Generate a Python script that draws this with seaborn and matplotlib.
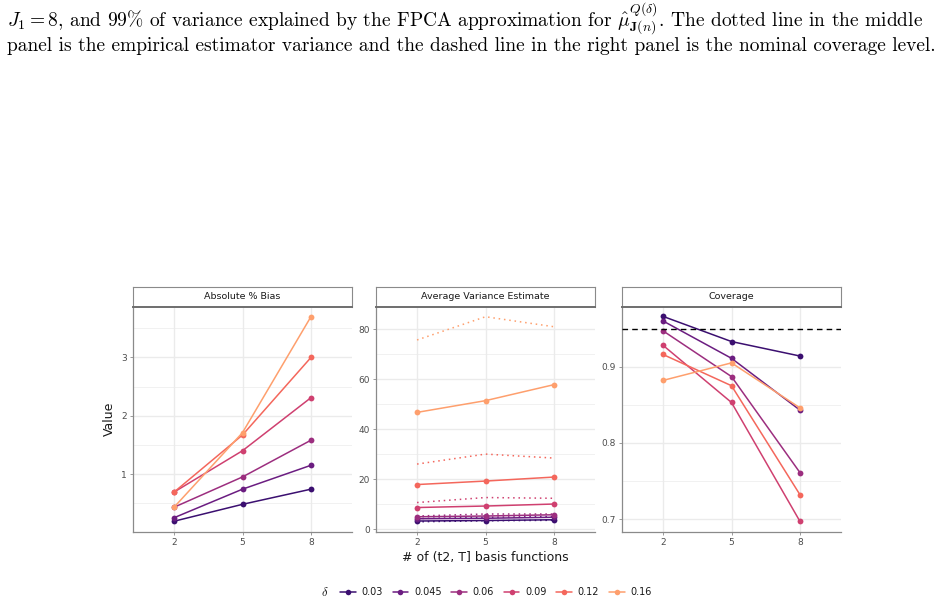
import numpy as np
import pandas as pd
import matplotlib
matplotlib.use("Agg")
import matplotlib.pyplot as plt
from matplotlib.lines import Line2D
import seaborn as sns

# ---------------- data ----------------
basis = ["2", "5", "8"]
deltas = ["0.03", "0.045", "0.06", "0.09", "0.12", "0.16"]

bias = {
    "0.03":  [0.19, 0.48, 0.74],
    "0.045": [0.25, 0.74, 1.15],
    "0.06":  [0.43, 0.95, 1.58],
    "0.09":  [0.69, 1.40, 2.31],
    "0.12":  [0.69, 1.67, 3.00],
    "0.16":  [0.43, 1.71, 3.70],
}
var_est = {
    "0.03":  [3.3, 3.5, 3.8],
    "0.045": [4.2, 4.4, 4.8],
    "0.06":  [5.0, 5.3, 5.8],
    "0.09":  [8.7, 9.3, 10.1],
    "0.12":  [17.9, 19.3, 20.9],
    "0.16":  [46.8, 51.5, 57.9],
}
var_emp = {
    "0.03":  [3.0, 3.4, 3.6],
    "0.045": [4.3, 4.8, 5.1],
    "0.06":  [5.3, 6.1, 6.1],
    "0.09":  [10.7, 12.7, 12.4],
    "0.12":  [26.1, 30.1, 28.5],
    "0.16":  [75.8, 85.1, 81.1],
}
coverage = {
    "0.03":  [0.966, 0.933, 0.914],
    "0.045": [0.960, 0.911, 0.843],
    "0.06":  [0.947, 0.887, 0.761],
    "0.09":  [0.928, 0.853, 0.697],
    "0.12":  [0.916, 0.875, 0.732],
    "0.16":  [0.882, 0.905, 0.846],
}
nominal = 0.95
panel_titles = ["Absolute % Bias", "Average Variance Estimate", "Coverage"]


def to_long(d):
    rows = []
    for k in deltas:
        for b, v in zip(basis, d[k]):
            rows.append({"basis": b, "delta": k, "value": v})
    return pd.DataFrame(rows)


df_bias = to_long(bias)
df_var = to_long(var_est)
df_emp = to_long(var_emp)
df_cov = to_long(coverage)

# ---------------- style ----------------
sns.set_theme(style="white")
plt.rcParams["font.family"] = ["DejaVu Sans"]
plt.rcParams["mathtext.fontset"] = "cm"

cmap = matplotlib.colormaps["magma"]
colors = [cmap(v) for v in np.linspace(0.2, 0.8, 6)]
palette = dict(zip(deltas, colors))

W, H = 947, 603
fig = plt.figure(figsize=(W / 100, H / 100), dpi=100)

grid_c = "#EBEBEB"
axis_c = "#8A8A8A"
tick_lab_c = "#4D4D4D"


def fx(px):
    return px / W


def fy(py):
    return 1 - py / H


panel_lefts = [133, 376, 622]
panel_width = 219
ax_top, ax_bot = 306.5, 532
strip_top = 287

axes = []
for i, left in enumerate(panel_lefts):
    ax = fig.add_axes([fx(left), fy(ax_bot), fx(panel_width), (ax_bot - ax_top) / H])
    axes.append(ax)

specs = [
    (df_bias, [1, 2, 3], [0.5, 1.5, 2.5, 3.5], ["1", "2", "3"]),
    (df_var, [0, 20, 40, 60, 80], [10, 30, 50, 70], ["0", "20", "40", "60", "80"]),
    (df_cov, [0.7, 0.8, 0.9], [0.75, 0.85, 0.95], ["0.7", "0.8", "0.9"]),
]
ylims = [(0.005, 3.875), (-1.1, 89.2), (0.683, 0.979)]

for i, ax in enumerate(axes):
    df, major, minor, labs = specs[i]
    for y in minor:
        ax.axhline(y, color=grid_c, lw=0.5, zorder=0)
    for y in major:
        ax.axhline(y, color=grid_c, lw=1.0, zorder=0)
    for x in range(3):
        ax.axvline(x, color=grid_c, lw=1.0, zorder=0)

    if i == 1:
        sns.lineplot(data=df_emp, x="basis", y="value", hue="delta", palette=palette,
                     hue_order=deltas, linestyle=(0, (1, 2.5)), linewidth=1.1,
                     sort=False, legend=False, ax=ax, zorder=2)
    sns.lineplot(data=df, x="basis", y="value", hue="delta", palette=palette,
                 hue_order=deltas, marker="o", markersize=4.2, markeredgewidth=0,
                 linewidth=1.1, sort=False, legend=False, ax=ax, zorder=3)
    if i == 2:
        ax.axhline(nominal, color="black", lw=1.0, ls=(0, (4, 3)), zorder=4)

    ax.set_xlim(-0.6, 2.6)
    ax.set_ylim(*ylims[i])
    ax.set_yticks(major)
    ax.set_yticklabels(labs)
    ax.set_xticks([0, 1, 2])
    ax.set_xticklabels(basis)
    ax.tick_params(axis="both", labelsize=6.5, colors=axis_c, length=2.5, width=0.6,
                   labelcolor=tick_lab_c, pad=2, left=True, bottom=True)
    for s in ["top", "right"]:
        ax.spines[s].set_visible(False)
    for s in ["left", "bottom"]:
        ax.spines[s].set_color(axis_c)
        ax.spines[s].set_linewidth(0.9)
    ax.set_xlabel("")
    ax.set_ylabel("")
    ax.set_facecolor("white")

    sax = fig.add_axes([fx(panel_lefts[i]), fy(ax_top), fx(panel_width), (ax_top - strip_top) / H])
    sax.set_xticks([])
    sax.set_yticks([])
    sax.set_facecolor("white")
    for s in ["top", "right", "left"]:
        sax.spines[s].set_color(axis_c)
        sax.spines[s].set_linewidth(0.8)
    sax.spines["bottom"].set_color("#6E6E6E")
    sax.spines["bottom"].set_linewidth(1.4)
    sax.text(0.5, 0.5, panel_titles[i], ha="center", va="center", fontsize=6.8,
             color="#1A1A1A", transform=sax.transAxes)

axes[0].set_ylabel("Value", fontsize=9, color="#1A1A1A", labelpad=4)
axes[1].set_xlabel("# of (t2, T] basis functions", fontsize=9, color="#1A1A1A", labelpad=3)

handles = [Line2D([0], [0], color=palette[d], lw=1.1, marker="o", markersize=4,
                  markeredgewidth=0) for d in deltas]
fig.text(fx(325), fy(592), r"$\delta$", ha="center", va="center", fontsize=9, color="#1A1A1A")
fig.legend(handles, deltas, loc="center", bbox_to_anchor=(fx(496), fy(592)), ncol=6,
           frameon=False, fontsize=7, handlelength=1.6, handletextpad=0.6,
           columnspacing=1.0, labelcolor="#1A1A1A")

cap_kw = dict(fontsize=14.0, family="cmr10", color="black", ha="left", va="center")
fig.text(fx(7), fy(18),
         r"$J_1 = 8$, and 99% of variance explained by the FPCA approximation for "
         r"$\hat{\mu}^{Q(\delta)}_{\mathbf{J}(n)}$. The dotted line in the middle", **cap_kw)
fig.text(fx(7), fy(46),
         "panel is the empirical estimator variance and the dashed line in the right panel is the nominal coverage level.",
         **cap_kw)

fig.savefig("out.png", dpi=100)
